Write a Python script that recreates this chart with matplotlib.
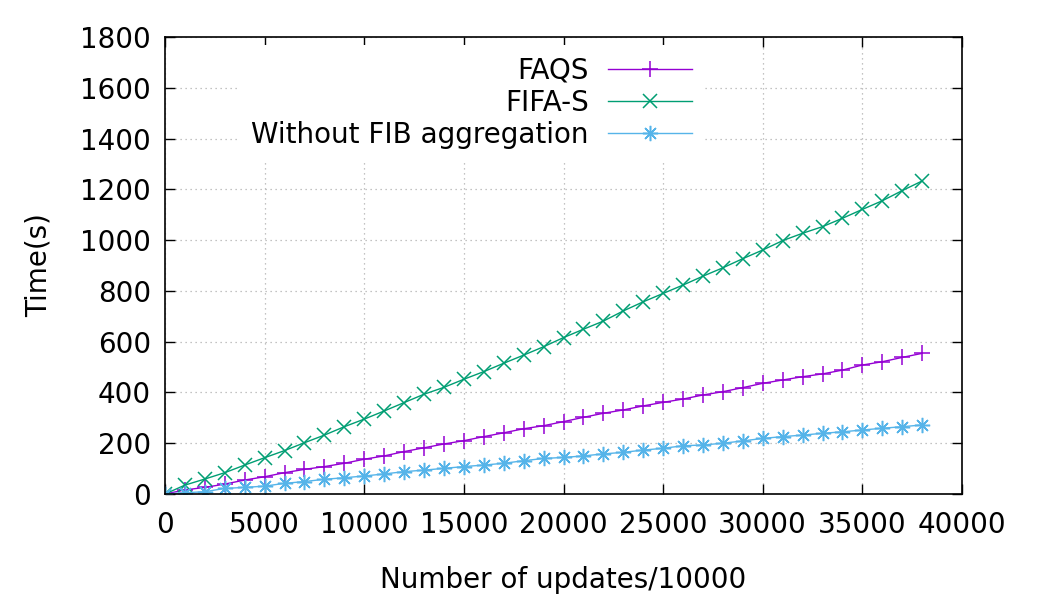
import matplotlib
matplotlib.use("Agg")
import matplotlib.pyplot as plt

updates = [i * 1000 for i in range(39)]

faqs = [0, 16, 26, 39, 55, 68, 84, 97, 108, 121, 137, 150, 167,
        182, 197, 210, 226, 241, 257, 269, 285, 302, 318, 331, 347, 361,
        374, 390, 403, 419, 436, 449, 462, 473, 488, 508, 521, 538, 554]

fifa_s = [0, 35, 59, 84, 114, 143, 171, 202, 232, 265, 295, 327, 360,
          393, 420, 452, 482, 515, 547, 580, 616, 649, 681, 721, 757, 790,
          823, 858, 891, 927, 961, 998, 1027, 1053, 1086, 1121, 1155, 1195, 1233]

without_agg = [0, 5, 9, 22, 26, 31, 42, 49, 58, 64, 71, 79, 88,
               94, 101, 108, 114, 121, 131, 140, 144, 150, 158, 164, 173, 180,
               190, 193, 200, 209, 219, 226, 232, 239, 245, 252, 259, 265, 272]

series_labels = ["FAQS", "FIFA-S", "Without FIB aggregation"]
x_ticks = [0, 5000, 10000, 15000, 20000, 25000, 30000, 35000, 40000]
y_ticks = [0, 200, 400, 600, 800, 1000, 1200, 1400, 1600, 1800]

plt.rcParams['font.family'] = ['DejaVu Sans']
fs = 20

fig = plt.figure(figsize=(10.5, 6), dpi=100)
ax = fig.add_axes([165 / 1050, 106 / 600, 797 / 1050, 457 / 600])

ax.plot(updates, faqs, color="#9400d3", lw=1.0, marker="+", ms=11, mew=1.1,
        label=series_labels[0])
ax.plot(updates, fifa_s, color="#009e73", lw=1.0, marker="x", ms=10, mew=1.1,
        label=series_labels[1])
ax.plot(updates, without_agg, color="#56b4e9", lw=1.0, marker=(8, 2, 0), ms=11, mew=1.1,
        label=series_labels[2])

ax.set_xlim(0, 40000)
ax.set_ylim(0, 1800)
ax.set_xticks(x_ticks)
ax.set_yticks(y_ticks)
ax.tick_params(direction="in", length=7, width=1, top=True, right=True,
               labelsize=fs, colors="black")
ax.tick_params(axis="x", pad=12)
ax.tick_params(axis="y", pad=10)
for s in ax.spines.values():
    s.set_linewidth(1.2)
ax.grid(True, color="#b0b0b0", linestyle=(0, (1, 3)), linewidth=0.9)
ax.set_axisbelow(True)

ax.set_xlabel("Number of updates/10000", fontsize=fs, labelpad=20)
ax.set_ylabel("Time(s)", fontsize=fs, labelpad=20)

leg = ax.legend(loc="upper right", bbox_to_anchor=(0.685, 1.0), markerfirst=False,
                frameon=True, fontsize=fs, handlelength=3.0, labelspacing=0.15,
                handletextpad=0.7, borderpad=0.4, borderaxespad=0.3)
leg.get_frame().set_facecolor("white")
leg.get_frame().set_edgecolor("none")
leg.get_frame().set_alpha(1)

fig.savefig("out.png", dpi=100)
